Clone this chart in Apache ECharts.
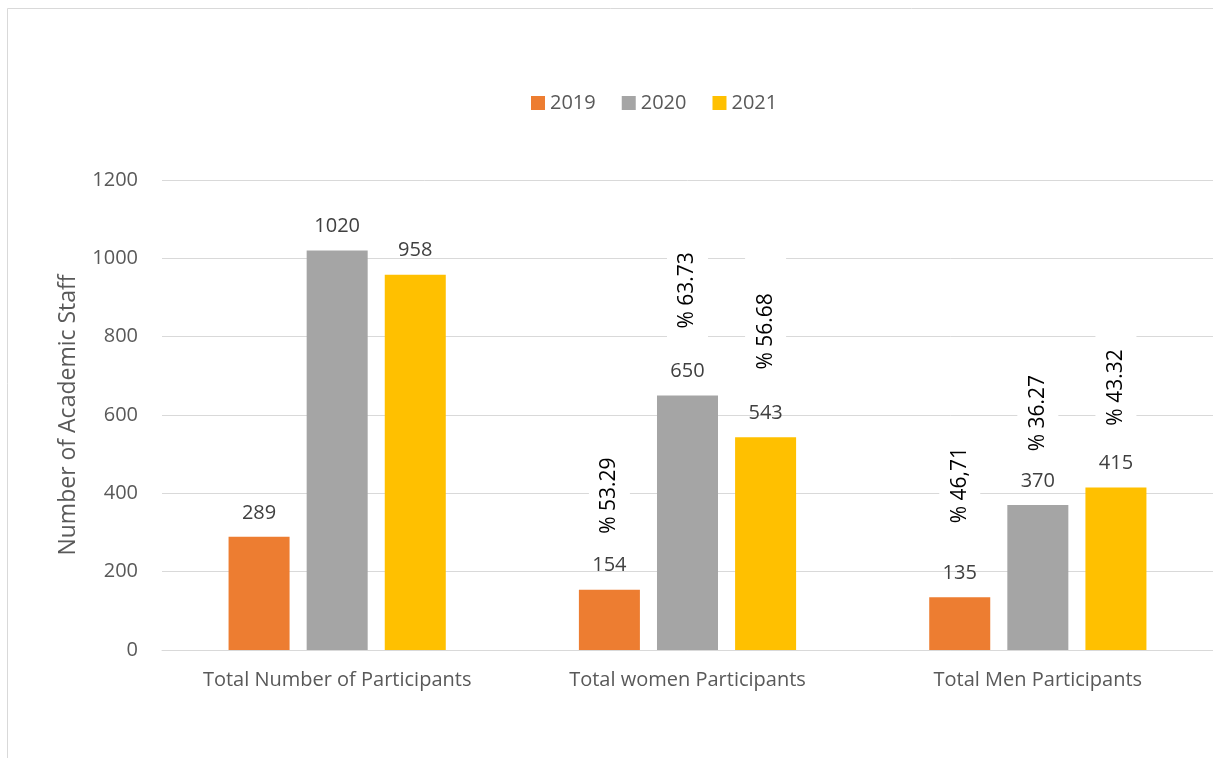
<!DOCTYPE html>
<html>
<head>
<meta charset="utf-8">
<script src="https://cdn.jsdelivr.net/npm/echarts@6/dist/echarts.min.js"></script>
<style>
html,body{margin:0;padding:0;background:#fff;}
#c{width:1213px;height:758px;}
</style>
</head>
<body>
<div id="c"></div>
<script>
const categories = ['Total Number of Participants', 'Total women Participants', 'Total Men Participants'];
const years = ['2019', '2020', '2021'];
const values2019 = [289, 154, 135];
const values2020 = [1020, 650, 370];
const values2021 = [958, 543, 415];
const pct2019 = ['', '% 53.29', '% 46,71'];
const pct2020 = ['', '% 63.73', '% 36.27'];
const pct2021 = ['', '% 56.68', '% 43.32'];
const yTicks = [0, 200, 400, 600, 800, 1000, 1200];

const colors = ['#ED7D31', '#A5A5A5', '#FFC000'];
const font = '"Open Sans", "Noto Sans", sans-serif';
// per-label lift (px) of the text centre above the bar top for the percentage annotations
const pctLift = [[0, 94, 112], [0, 105, 92], [0, 106, 100]];
// white box length above / below the text (px), per label
const pctTopPad = [[0, 14, 14], [0, 14, 14], [0, 38, 16]];
const pctBottomPad = 12;

const allValues = [values2019, values2020, values2021];
const allPct = [pct2019, pct2020, pct2021];

function makeSeries(i) {
  const vals = allValues[i];
  const pcts = allPct[i];
  const mp = [];
  pcts.forEach((p, j) => {
    if (p) {
      const tp = pctTopPad[i][j];
      mp.push({
        coord: [j, vals[j]],
        value: p,
        label: {
          offset: [pctLift[i][j] + (tp - pctBottomPad) / 2, 0],
          padding: [10, tp, 10, pctBottomPad]
        }
      });
    }
  });
  return {
    name: years[i],
    type: 'bar',
    data: vals,
    itemStyle: { color: colors[i] },
    barGap: '28%',
    barCategoryGap: '38%',
    label: {
      show: true,
      position: 'top',
      distance: 14,
      color: '#404040',
      fontSize: 20,
      fontFamily: font
    },
    markPoint: {
      symbol: 'circle',
      symbolSize: 0,
      silent: true,
      data: mp,
      label: {
        show: true,
        position: 'inside',
        rotate: 90,
        formatter: (p) => p.value,
        color: '#000',
        fontSize: 21,
        fontFamily: font,
        backgroundColor: '#fff'
      }
    }
  };
}

const chart = echarts.init(document.getElementById('c'));
chart.setOption({
  animation: false,
  backgroundColor: '#fff',
  legend: {
    data: years,
    top: 88,
    left: 526,
    itemWidth: 14,
    itemHeight: 14,
    itemGap: 26,
    icon: 'rect',
    textStyle: { color: '#595959', fontSize: 20, fontFamily: font }
  },
  grid: { left: 162, top: 180, width: 1056, height: 470, containLabel: false },
  xAxis: {
    type: 'category',
    data: categories,
    axisLine: { lineStyle: { color: '#d9d9d9', width: 1 } },
    axisTick: { show: false },
    axisLabel: { color: '#595959', fontSize: 20, fontFamily: font, margin: 20 }
  },
  yAxis: {
    type: 'value',
    min: yTicks[0],
    max: yTicks[yTicks.length - 1],
    interval: 200,
    name: 'Number of Academic Staff',
    nameLocation: 'middle',
    nameGap: 82,
    nameTextStyle: { color: '#595959', fontSize: 23, fontFamily: font },
    axisLine: { show: false },
    axisTick: { show: false },
    splitLine: { lineStyle: { color: '#d9d9d9', width: 1 } },
    axisLabel: { color: '#595959', fontSize: 20, fontFamily: font, margin: 24, formatter: (v) => String(v) }
  },
  graphic: [
    { type: 'line', shape: { x1: 7.5, y1: 8.5, x2: 1213, y2: 8.5 }, style: { stroke: '#d9d9d9', lineWidth: 1 } },
    { type: 'line', shape: { x1: 7.5, y1: 8.5, x2: 7.5, y2: 758 }, style: { stroke: '#d9d9d9', lineWidth: 1 } }
  ],
  series: [makeSeries(0), makeSeries(1), makeSeries(2)]
});
</script>
</body>
</html>
